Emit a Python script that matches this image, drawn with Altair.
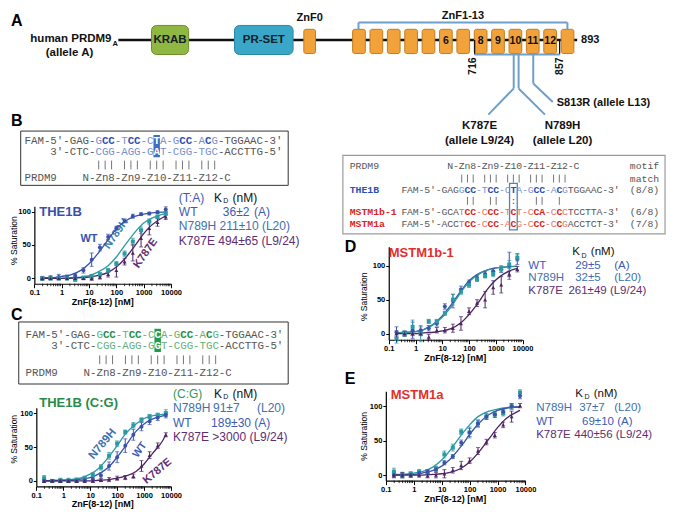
import altair as alt
import pandas as pd

# ---------------- canvas geometry ----------------
W, H = 659, 502          # drawing area inside the 8px page margin
IW, IH = 675, 518        # reference picture size (layout coordinates)
SX, SY = W / IW, H / IH
def px(v): return v * SX
def py(v): return v * SY

# ---------------- binding data ----------------
conc = [0.195, 0.39, 0.78, 1.56, 3.125, 6.25, 12.5, 25, 50, 100, 200, 400, 800, 1600, 3200, 6400]
fit_conc = [0.2, 0.5, 1, 2, 5, 10, 20, 50, 100, 200, 500, 1000, 2000, 5000, 6400]

B_WT        = [0, 1, 2, 2, 4, 12, 28, 46, 62, 75, 86, 93, 96, 97, 99, 103]
B_WT_err    = [3, 3, 4, 3, 3, 4, 10, 5, 4, 3, 3, 3, 2, 2, 2, 4]
B_N789H     = [0, 0, 0, 0, -2, 1, 3, 6, 12, 22, 37, 55, 72, 85, 92, 97]
B_N789H_err = [2, 2, 2, 2, 2, 2, 3, 3, 3, 3, 4, 5, 5, 4, 3, 3]
B_K787E     = [0, 0, 0, 0, 0, 0, 0, 2, 6, 12, 25, 38, 60, 75, 84, 92]
B_K787E_err = [2, 2, 2, 2, 2, 2, 3, 3, 4, 10, 5, 12, 13, 10, 6, 4]
B_WT_fit    = [1, 1, 3, 5, 12, 22, 36, 58, 74, 85, 93, 96, 98, 99, 99]
B_N789H_fit = [0, 0, 0, 1, 2, 4, 9, 19, 32, 49, 70, 83, 90, 96, 97]
B_K787E_fit = [0, 0, 0, 0, 1, 2, 4, 9, 17, 29, 50, 67, 80, 91, 93]

C_N789H     = [4, 0, 1, 1, 2, 4, 9, 20, 37, 55, 72, 82, 90, 95, 97, 100]
C_N789H_err = [4, 2, 3, 3, 2, 3, 3, 4, 5, 4, 3, 4, 3, 3, 3, 5]
C_WT        = [0, 0, 0, 0, 0, 1, 3, 8, 22, 35, 52, 68, 80, 88, 93, 97]
C_WT_err    = [2, 2, 2, 2, 2, 2, 3, 4, 6, 8, 10, 8, 6, 5, 4, 4]
C_K787E     = [0, 0, 0, 0, 0, 0, 0, 1, 2, 4, 5, 7, 22, 38, 52, 68]
C_K787E_err = [2, 2, 2, 2, 2, 2, 2, 2, 3, 3, 3, 3, 8, 5, 4, 3]
C_N789H_fit = [0, 1, 1, 2, 5, 10, 18, 36, 52, 69, 84, 92, 96, 98, 99]
C_WT_fit    = [0, 0, 1, 1, 3, 5, 10, 21, 35, 51, 73, 84, 91, 96, 97]
C_K787E_fit = [0, 0, 0, 0, 0, 0, 1, 2, 4, 7, 14, 25, 40, 60, 68]

D_WT        = [2, 0, 5, 5, 8, 15, 40, 48, 65, 75, 82, 88, 92, 95, 100, 110]
D_WT_err    = [8, 4, 12, 5, 4, 4, 4, 10, 5, 4, 4, 4, 4, 5, 20, 8]
D_N789H     = [-8, 0, 10, 0, 18, 18, 30, 50, 62, 72, 80, 85, 88, 95, 102, 112]
D_N789H_err = [6, 4, 10, 12, 3, 3, 3, 8, 4, 4, 3, 3, 4, 4, 6, 5]
D_K787E     = [0, 0, 0, 0, -5, 5, 5, 8, 15, 33, 45, 50, 68, 72, 88, 95]
D_K787E_err = [4, 3, 3, 3, 4, 4, 4, 6, 10, 5, 5, 12, 10, 12, 4, 4]
D_WT_fit    = [1, 2, 3, 6, 15, 26, 41, 63, 78, 87, 94, 97, 98, 99, 99]
D_N789H_fit = [1, 2, 3, 6, 14, 24, 38, 61, 76, 86, 94, 97, 98, 99, 99]
D_K787E_fit = [0, 0, 0, 1, 2, 4, 7, 16, 28, 43, 66, 79, 88, 95, 96]

E_N789H     = [5, 0, 2, 5, 5, 10, 30, 40, 63, 62, 75, 85, 88, 90, 100, 120]
E_N789H_err = [5, 4, 3, 3, 3, 3, 5, 5, 4, 8, 5, 4, 4, 4, 4, 4]
E_WT        = [0, 0, 0, 3, 5, 8, 18, 27, 47, 62, 75, 85, 88, 92, 100, 115]
E_WT_err    = [4, 4, 3, 3, 3, 3, 3, 3, 4, 6, 5, 4, 4, 4, 4, 4]
E_K787E     = [0, 0, 0, 0, -1, 0, 2, 7, 14, 21, 35, 48, 58, 73, 85, 101]
E_K787E_err = [3, 3, 3, 3, 3, 4, 6, 4, 6, 4, 5, 4, 4, 4, 8, 3]
E_N789H_fit = [1, 1, 3, 5, 12, 22, 36, 58, 73, 85, 93, 96, 98, 99, 99]
E_WT_fit    = [0, 1, 1, 3, 7, 13, 23, 42, 59, 74, 88, 94, 97, 99, 99]
E_K787E_fit = [0, 0, 0, 0, 1, 2, 4, 10, 19, 32, 53, 69, 82, 92, 94]

x_tick_values = [0.1, 1, 10, 100, 1000, 10000]
y_tick_values = [0, 50, 100]

# ---------------- styles ----------------
SERIES_STYLE = {
    "WT":    dict(color="#3a52aa", shape="circle"),
    "N789H": dict(color="#2c9aa4", shape="square"),
    "K787E": dict(color="#4b2463", shape="triangle-up"),
}
SANS = "Liberation Sans"
MONO = "Liberation Mono"

PANELS = {   # pixel anchors in reference coordinates
    "B": dict(x01=27, x1e4=167, y0=279, y100=210, ylo=-8, yhi=108),
    "C": dict(x01=29, x1e4=167, y0=488, y100=418, ylo=-8, yhi=108),
    "D": dict(x01=390, x1e4=527, y0=336, y100=266, ylo=-9, yhi=128),
    "E": dict(x01=387, x1e4=530, y0=482, y100=411, ylo=-8, yhi=122),
}

SERIES = {
    "B": [("WT", B_WT, B_WT_err, B_WT_fit), ("N789H", B_N789H, B_N789H_err, B_N789H_fit),
          ("K787E", B_K787E, B_K787E_err, B_K787E_fit)],
    "C": [("N789H", C_N789H, C_N789H_err, C_N789H_fit), ("WT", C_WT, C_WT_err, C_WT_fit),
          ("K787E", C_K787E, C_K787E_err, C_K787E_fit)],
    "D": [("WT", D_WT, D_WT_err, D_WT_fit), ("N789H", D_N789H, D_N789H_err, D_N789H_fit),
          ("K787E", D_K787E, D_K787E_err, D_K787E_fit)],
    "E": [("N789H", E_N789H, E_N789H_err, E_N789H_fit), ("WT", E_WT, E_WT_err, E_WT_fit),
          ("K787E", E_K787E, E_K787E_err, E_K787E_fit)],
}

minor_ticks = [m * 10 ** e for e in range(-1, 4) for m in range(2, 10)]


def binding_plot(p):
    g = PANELS[p]
    def ypix(v):
        return g["y0"] + (g["y100"] - g["y0"]) * v / 100.0
    xr = [px(g["x01"]), px(g["x1e4"])]
    yr = [py(ypix(g["ylo"])), py(ypix(g["yhi"]))]
    xs = alt.Scale(type="log", domain=[0.1, 10000], range=xr, nice=False)
    ys = alt.Scale(domain=[g["ylo"], g["yhi"]], range=yr, nice=False, zero=False)
    xaxis = alt.Axis(orient="bottom", offset=yr[0] - H, values=x_tick_values, format="~g",
                     title=None, grid=False, domainColor="#000", domainWidth=1.2,
                     tickColor="#000", tickSize=4, tickWidth=1, labelFont=SANS,
                     labelFontWeight="bold", labelFontSize=7.5, labelColor="#000",
                     labelPadding=1, labelFlush=False)
    yaxis = alt.Axis(orient="left", offset=-xr[0], values=y_tick_values, title=None, grid=False,
                     domainColor="#000", domainWidth=1.2, tickColor="#000", tickSize=3,
                     tickWidth=1, labelFont=SANS, labelFontWeight="bold", labelFontSize=7.5,
                     labelColor="#000", labelPadding=1)

    pts, fits, caps = [], [], []
    for name, vals, errs, fit in SERIES[p]:
        st = SERIES_STYLE[name]
        for c, v, e in zip(conc, vals, errs):
            pts.append(dict(series=name, conc=c, val=v, lo=v - e, hi=v + e,
                            col=st["color"], shp=st["shape"]))
            caps.append(dict(series=name, conc=c, cap=v - e, col=st["color"]))
            caps.append(dict(series=name, conc=c, cap=v + e, col=st["color"]))
        for c, v in zip(fit_conc, fit):
            fits.append(dict(series=name, conc=c, val=v, col=st["color"]))
    pts, fits, caps = pd.DataFrame(pts), pd.DataFrame(fits), pd.DataFrame(caps)

    X = alt.X("conc:Q", scale=xs, axis=xaxis)
    col = alt.Color("col:N", scale=None)
    lines = alt.Chart(fits).mark_line(strokeWidth=1.3, interpolate="monotone").encode(
        x=X, y=alt.Y("val:Q", scale=ys, axis=yaxis), color=col, detail="series:N")
    bars = alt.Chart(pts).mark_rule(strokeWidth=1).encode(
        x=X, y=alt.Y("lo:Q", scale=ys, axis=yaxis), y2="hi:Q", color=col)
    capm = alt.Chart(caps).mark_tick(orient="horizontal", size=4, thickness=1).encode(
        x=X, y=alt.Y("cap:Q", scale=ys, axis=yaxis), color=col)
    dots = alt.Chart(pts).mark_point(filled=True, opacity=1, size=16).encode(
        x=X, y=alt.Y("val:Q", scale=ys, axis=yaxis), color=col,
        shape=alt.Shape("shp:N", scale=None))
    minor = alt.Chart(pd.DataFrame({"m": minor_ticks})).mark_rule(color="#000", strokeWidth=0.8).encode(
        x=alt.X("m:Q", scale=xs, axis=xaxis), y=alt.value(yr[0]), y2=alt.value(yr[0] + 2.5))
    return alt.layer(lines, bars, capm, dots, minor)


# ---------------- canvas (diagram, boxes, texts) ----------------
CX = alt.X("x:Q", scale=alt.Scale(domain=[0, IW], range=[0, W], nice=False, zero=False), axis=None)
CY = alt.Y("y:Q", scale=alt.Scale(domain=[0, IH], range=[0, H], nice=False, zero=False), axis=None)

texts = []
def T(x, y, text, size, color="#111", weight="normal", align="left", font=SANS, angle=0):
    texts.append(dict(x=x, y=y, text=text, size=size, color=color, weight=weight,
                      align=align, font=font, angle=angle))

# panel letters
for lab, (x, y) in {"A": (3, 13), "B": (3, 117), "C": (3, 317), "D": (345, 247), "E": (345, 383)}.items():
    T(x, y, lab, 16, "#000", "bold")

# ----- panel A : domain diagram -----
domain_names = ["KRAB", "PR-SET"]
domain_fill = {"KRAB": "#8fb843", "PR-SET": "#3aa7c8"}
domain_stroke = {"KRAB": "#6d8e2c", "PR-SET": "#2b87a3"}
domain_pos = {"KRAB": (147, 185), "PR-SET": (232, 292)}
zn_labels = {6: "6", 8: "8", 9: "9", 10: "10", 11: "11", 12: "12"}
ZN_X0, ZN_PITCH, ZN_W = 353, 17.8, 13

boxes = []
for n in domain_names:
    a, b = domain_pos[n]
    boxes.append(dict(x=a, x2=b, y=18, y2=48, fill=domain_fill[n], stroke=domain_stroke[n]))
    T((a + b) / 2, 33, n, 11.5, "#14202a", "bold", "center")
znboxes = [dict(x=303, x2=315, y=22, y2=47, fill="#f2a23a", stroke="#c47c1c")]
for k in range(1, 14):
    a = ZN_X0 + (k - 1) * ZN_PITCH
    znboxes.append(dict(x=a, x2=a + ZN_W, y=22, y2=47, fill="#f2a23a", stroke="#c47c1c"))
    if k in zn_labels:
        T(a + ZN_W / 2, 34, zn_labels[k], 10.5, "#111", "bold", "center")

T(106, 32, "human PRDM9", 11.5, "#111", "bold", "right")
T(107, 37, "A", 7.5, "#111", "bold", "left")
T(63, 46, "(allele A)", 11.5, "#111", "bold", "center")
T(309, 10, "ZnF0", 11, "#111", "bold", "center")
T(466, 8, "ZnF1-13", 11, "#111", "bold", "center")
T(587, 33, "893", 11, "#111", "bold", "left")
T(476, 60, "716", 10.5, "#111", "bold", "center", angle=270)
T(565, 60, "857", 10.5, "#111", "bold", "center", angle=270)
T(562, 98, "S813R (allele L13)", 11, "#111", "bold", "left")
T(483, 122, "K787E", 11.5, "#111", "bold", "center")
T(483, 137, "(allele L9/24)", 11.5, "#111", "bold", "center")
T(568, 122, "N789H", 11.5, "#111", "bold", "center")
T(568, 137, "(allele L20)", 11.5, "#111", "bold", "center")

BL = "#6f9fcb"
rules_back = [dict(x=113, y=33, x2=583, y2=33, col="#111", sw=2.5)]
rules = [
    dict(x=478, y=33, x2=478, y2=48, col="#111", sw=1.2),
    dict(x=565, y=33, x2=565, y2=48, col="#111", sw=1.2),
    dict(x=359, y=15, x2=573, y2=15, col=BL, sw=2),
    dict(x=359, y=15, x2=359, y2=22, col=BL, sw=2),
    dict(x=573, y=15, x2=573, y2=22, col=BL, sw=2),
    dict(x=478, y=48, x2=565, y2=48, col=BL, sw=2),
    dict(x=518, y=48, x2=518, y2=83, col=BL, sw=2),
    dict(x=518, y=83, x2=492, y2=110, col=BL, sw=2),
    dict(x=523, y=48, x2=523, y2=83, col=BL, sw=2),
    dict(x=523, y=83, x2=550, y2=110, col=BL, sw=2),
    dict(x=538, y=48, x2=538, y2=78, col=BL, sw=2),
    dict(x=538, y=78, x2=558, y2=97, col=BL, sw=2),
]

# ----- sequence boxes -----
PAL_BLUE = {"g": ("#555555", "normal"), "L": ("#7590cf", "normal"), "B": ("#2d4faf", "bold"), "W": ("#ffffff", "bold")}
PAL_GREEN = {"g": ("#555555", "normal"), "L": ("#62b27c", "normal"), "B": ("#1f8d45", "bold"), "W": ("#ffffff", "bold")}
PAL_RED = {"g": ("#555555", "normal"), "L": ("#e8705f", "normal"), "B": ("#d8261c", "bold")}

B_rows = [
    ("FAM-5\u2032-GAG-GCC-TCC-CTA-GCC-ACG-TGGAAC-3\u2032", "gggggggggggLBBLLBBLLWLLLBBLLBLgggggggggg"),
    ("    3\u2032-CTC-CGG-AGG-GAT-CGG-TGC-ACCTTG-5\u2032", "gggggggggggLLLLLLLLLWLLLLLLLLLgggggggggg"),
    ("           ||| ||| ||| ||| |||", None),
    ("PRDM9    N-Zn8-Zn9-Z10-Z11-Z12-C", None),
]
C_rows = [
    ("FAM-5\u2032-GAG-GCC-TCC-CCA-GCC-ACG-TGGAAC-3\u2032", "gggggggggggLBBLLBBLLWLLLBBLLBLgggggggggg"),
    ("    3\u2032-CTC-CGG-AGG-GGT-CGG-TGC-ACCTTG-5\u2032", "gggggggggggLLLLLLLLLWLLLLLLLLLgggggggggg"),
    ("           ||| ||| ||| ||| |||", None),
    ("PRDM9    N-Zn8-Zn9-Z10-Z11-Z12-C", None),
]
ALN_rows = [
    ("        N-Zn8-Zn9-Z10-Z11-Z12-C", None, PAL_BLUE),
    ("          ||| ||| ||| ||| |||", None, PAL_BLUE),
    ("FAM-5\u2032-GAGGCC-TCC-CTA-GCC-ACGTGGAAC-3\u2032", "ggggggggggLBBLLBBLLBLLLBBLLBLggggggggg", PAL_BLUE),
    ("           ||  ||  :   ||  |", None, PAL_BLUE),
    ("FAM-5\u2032-GCATCC-CCC-TCT-CCA-CCCTCCTTA-3\u2032", "ggggggggggLBBLLBBLLBLLLBBLLBLggggggggg", PAL_RED),
    ("FAM-5\u2032-ACCTCC-CCC-ACG-CCC-CCGACCTCT-3\u2032", "ggggggggggLBBLLBBLLBLLLBBLLBLggggggggg", PAL_RED),
]
ALN_names = [("PRDM9", "#555555", "normal"), ("", "", ""), ("THE1B", "#2d4faf", "bold"), ("", "", ""),
             ("MSTM1b-1", "#d8261c", "bold"), ("MSTM1a", "#d8261c", "bold")]
ALN_right = ["motif", "match", "(8/8)", "", "(6/8)", "(7/8)"]

pipes = []   # base-pair match bars drawn as thin rules
def seq_text(rows, x0, cw, ys, size, pal):
    for (s, code), y in zip(rows, ys):
        for i, ch in enumerate(s):
            if ch == " ":
                continue
            xc = x0 + (i + 0.5) * cw
            if ch == "|":
                pipes.append(dict(x=xc, y=y - size * 0.42, x2=xc, y2=y + size * 0.42, col="#666666", sw=0.9))
                continue
            c, w = pal[code[i]] if code else pal["g"]
            T(xc, y, ch, size, c, w, "center", MONO)

CW1 = 6.6
seq_text(B_rows, 17, CW1, [137, 149, 162, 175], 10.8, PAL_BLUE)
seq_text(C_rows, 18, CW1, [337, 349, 363, 377], 10.8, PAL_GREEN)
CW2 = 5.88
ALN_Y = [163, 176, 188, 199, 211, 223]
for (s, code, pal), y, (nm, nc, nw), rt in zip(ALN_rows, ALN_Y, ALN_names, ALN_right):
    seq_text([(s, code)], 403, CW2, [y], 9.8, pal)
    if nm:
        T(350, y, nm, 9.8, nc, nw, "left", MONO)
    if rt:
        T(667, y, rt, 9.8, "#555555", "normal", "right", MONO)

frames = [
    dict(x=13, x2=287, y=127, y2=183, stroke="#333333", sw=1),
    dict(x=11, x2=287, y=324, y2=388, stroke="#333333", sw=1),
    dict(x=343, x2=673, y=152, y2=233, stroke="#9a9a9a", sw=1.2),
    dict(x=403 + 19 * CW2 - 1, x2=403 + 20 * CW2 + 1, y=181, y2=229, stroke="#5b80b8", sw=1.3),
]
highlights = [
    dict(x=17 + 20 * CW1, x2=17 + 21 * CW1, y=131, y2=154, fill="#3f6fc2"),
    dict(x=18 + 20 * CW1, x2=18 + 21 * CW1, y=331, y2=355, fill="#1f9a4f"),
]

# ----- legends and plot annotations -----
C_WTT, C_N, C_K = "#3d5bb5", "#3d70ad", "#5e2d72"
def KD(x, y, fs=12):
    T(x, y, "K", fs, "#111")
    T(x + 9.5, y + 3.5, "D", 7, "#111")
    T(x + 19, y, "(nM)", fs, "#111")

# B
T(175, 196, "(T:A)", 12, C_WTT); KD(211, 196)
T(175, 210, "WT", 12, C_WTT); T(220, 210, "36\u00b12", 12, C_WTT); T(252, 210, "(A)", 12, C_WTT)
T(175, 225, "N789H 211\u00b110 (L20)", 12, C_N)
T(175, 240, "K787E 494\u00b165 (L9/24)", 12, C_K)
T(32, 210, "THE1B", 13, "#3a4fa8", "bold")
T(83, 238, "WT", 11, "#3a52aa", "bold", "center")
T(111, 233, "N789H", 11, "#3580ad", "bold", "center", angle=305)
T(141, 253, "K787E", 11, "#5e2d72", "bold", "center", angle=305)
# C
T(169, 398, "(C:G)", 12, "#2e9a52"); KD(211, 398)
T(169, 413, "N789H", 12, C_N); T(210, 413, "91\u00b17", 12, C_N); T(255, 413, "(L20)", 12, C_N)
T(169, 428, "WT", 12, C_WTT); T(208, 428, "189\u00b130 (A)", 12, C_WTT)
T(169, 443, "K787E >3000  (L9/24)", 12, C_K)
T(32, 408, "THE1B (C:G)", 13, "#2a8a4a", "bold")
T(97, 450, "N789H", 11.5, "#3d6fb0", "bold", "center", angle=310)
T(135, 456, "WT", 10.5, "#3d5bb5", "bold", "center", angle=305)
T(153, 478, "K787E", 11, "#5e2d72", "bold", "center", angle=320)
# D
KD(578, 252, 11.5)
T(533, 266, "WT", 11.5, C_WTT); T(581, 266, "29\u00b15", 11.5, C_WTT); T(621, 266, "(A)", 11.5, C_WTT)
T(533, 279, "N789H", 11.5, C_N); T(581, 279, "32\u00b15", 11.5, C_N); T(621, 279, "(L20)", 11.5, C_N)
T(533, 292, "K787E", 11.5, C_K); T(574, 292, "261\u00b149 (L9/24)", 11.5, C_K)
T(390, 253, "MSTM1b-1", 13, "#e0302a", "bold")
# E
KD(581, 398, 11.5)
T(541, 413, "N789H", 11.5, C_N); T(585, 413, "37\u00b17", 11.5, C_N); T(621, 413, "(L20)", 11.5, C_N)
T(541, 427, "WT", 11.5, C_WTT); T(588, 427, "69\u00b110 (A)", 11.5, C_WTT)
T(541, 441, "K787E", 11.5, C_K); T(580, 441, "440\u00b156 (L9/24)", 11.5, C_K)
T(392, 399, "MSTM1a", 13, "#e0302a", "bold")

# axis titles
for (xt, yt), (xs_, ys_) in [((97, 303), (6, 240)), ((97, 512), (6, 445)),
                             ((458, 361), (365, 298)), ((458, 507), (365, 442))]:
    T(xt, yt, "ZnF(8-12) [nM]", 9, "#000", "bold", "center")
    T(xs_, ys_, "% Saturation", 8.5, "#000", "normal", "center", angle=270)

# ---------------- canvas layers ----------------
def rule_layer(rows):
    return alt.Chart(pd.DataFrame(rows)).mark_rule(strokeCap="butt").encode(
        x=CX, y=CY, x2=alt.X2("x2:Q"), y2=alt.Y2("y2:Q"),
        color=alt.Color("col:N", scale=None), strokeWidth=alt.StrokeWidth("sw:Q", scale=None))

back = rule_layer(rules_back)
dom = alt.Chart(pd.DataFrame(boxes)).mark_rect(cornerRadius=5, strokeWidth=1).encode(
    x=CX, x2=alt.X2("x2:Q"), y=CY, y2=alt.Y2("y2:Q"),
    fill=alt.Fill("fill:N", scale=None), stroke=alt.Stroke("stroke:N", scale=None))
zn = alt.Chart(pd.DataFrame(znboxes)).mark_rect(cornerRadius=2, strokeWidth=1).encode(
    x=CX, x2=alt.X2("x2:Q"), y=CY, y2=alt.Y2("y2:Q"),
    fill=alt.Fill("fill:N", scale=None), stroke=alt.Stroke("stroke:N", scale=None))
lines_a = rule_layer(rules)
pipe_layer = rule_layer(pipes)
fr = alt.Chart(pd.DataFrame(frames)).mark_rect(fillOpacity=0).encode(
    x=CX, x2=alt.X2("x2:Q"), y=CY, y2=alt.Y2("y2:Q"),
    stroke=alt.Stroke("stroke:N", scale=None), strokeWidth=alt.StrokeWidth("sw:Q", scale=None))
hl = alt.Chart(pd.DataFrame(highlights)).mark_rect().encode(
    x=CX, x2=alt.X2("x2:Q"), y=CY, y2=alt.Y2("y2:Q"), fill=alt.Fill("fill:N", scale=None))

tdf = pd.DataFrame(texts)
text_layers = []
for (w, a, f), sub in tdf.groupby(["weight", "align", "font"]):
    text_layers.append(
        alt.Chart(sub.reset_index(drop=True)).mark_text(fontWeight=w, align=a, font=f, baseline="middle").encode(
            x=CX, y=CY, text="text:N",
            size=alt.Size("size:Q", scale=None),
            color=alt.Color("color:N", scale=None),
            angle=alt.Angle("angle:Q", scale=None)))

canvas = alt.layer(back, dom, zn, lines_a, hl, fr, pipe_layer, *text_layers)

chart = alt.layer(
    canvas, binding_plot("B"), binding_plot("C"), binding_plot("D"), binding_plot("E")
).resolve_scale(
    x="independent", y="independent"
).properties(
    width=W, height=H, autosize=alt.AutoSizeParams(type="none"), padding=0,
    background="#ffffff"
).configure_view(strokeWidth=0)

chart.save("out.html", embed_options={"renderer": "svg", "actions": False})
